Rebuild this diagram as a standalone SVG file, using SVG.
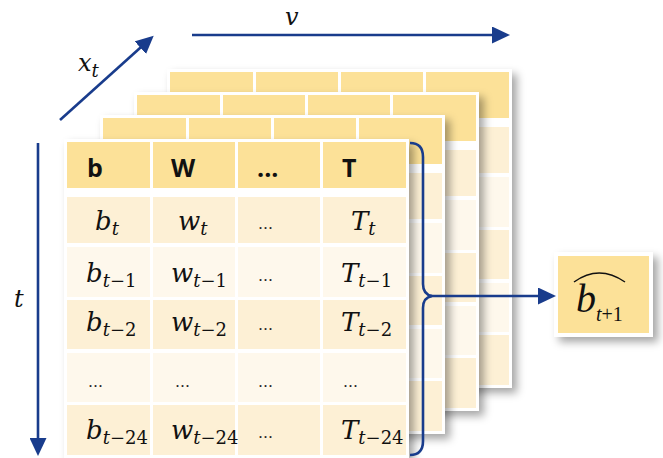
<svg xmlns="http://www.w3.org/2000/svg" xmlns:xlink="http://www.w3.org/1999/xlink" width="663" height="458" viewBox="0 0 663 458">
<style>
.hdr{fill:#FCE198}
.dk{fill:#FDF0D5}
.lt{fill:#FEF8EC}
.card{fill:#ffffff}
.h{font-family:"Open Sans","Liberation Sans",sans-serif;font-weight:700;font-size:25px;fill:#111}
.m{font-family:"DejaVu Serif","Liberation Serif",serif;font-style:italic;font-size:26px;fill:#111}
.lb{font-family:"DejaVu Serif","Liberation Serif",serif;font-style:italic;font-size:24px;fill:#111}
.s{font-size:18px}
.up{font-style:normal}
.el{font-family:"DejaVu Serif","Liberation Serif",serif;font-size:15px;fill:#222}
.ax{stroke:#193C8C;stroke-width:2.6;fill:none}
</style>
<defs>
<filter id="sh" x="-10%" y="-10%" width="130%" height="130%">
<feDropShadow dx="5" dy="5" stdDeviation="4" flood-color="#000" flood-opacity="0.35"/>
</filter>
<marker id="ah" viewBox="0 0 18 17" refX="13" refY="8.5" markerWidth="18" markerHeight="17" markerUnits="userSpaceOnUse" orient="auto">
<path d="M0,0 L18,8.5 L0,17 Z" fill="#193C8C"/>
</marker>
<g id="tbl">
<rect class="card" x="-3" y="-3" width="345" height="319" filter="url(#sh)"/>
<rect class="hdr" x="0" y="0" width="83" height="46"/>
<rect class="hdr" x="86" y="0" width="82" height="46"/>
<rect class="hdr" x="171" y="0" width="82" height="46"/>
<rect class="hdr" x="256" y="0" width="83" height="46"/>
<rect class="dk" x="0" y="55" width="83" height="46"/>
<rect class="dk" x="86" y="55" width="82" height="46"/>
<rect class="dk" x="171" y="55" width="82" height="46"/>
<rect class="dk" x="256" y="55" width="83" height="46"/>
<rect class="lt" x="0" y="105" width="83" height="50"/>
<rect class="lt" x="86" y="105" width="82" height="50"/>
<rect class="lt" x="171" y="105" width="82" height="50"/>
<rect class="lt" x="256" y="105" width="83" height="50"/>
<rect class="dk" x="0" y="158" width="83" height="49"/>
<rect class="dk" x="86" y="158" width="82" height="49"/>
<rect class="dk" x="171" y="158" width="82" height="49"/>
<rect class="dk" x="256" y="158" width="83" height="49"/>
<rect class="lt" x="0" y="211" width="83" height="49"/>
<rect class="lt" x="86" y="211" width="82" height="49"/>
<rect class="lt" x="171" y="211" width="82" height="49"/>
<rect class="lt" x="256" y="211" width="83" height="49"/>
<rect class="dk" x="0" y="263" width="83" height="50"/>
<rect class="dk" x="86" y="263" width="82" height="50"/>
<rect class="dk" x="171" y="263" width="82" height="50"/>
<rect class="dk" x="256" y="263" width="83" height="50"/>
</g>
</defs>
<rect width="663" height="458" fill="#ffffff"/>

<g id="layer4"><use xlink:href="#tbl" href="#tbl" transform="translate(170,72)"/></g>
<g id="layer3"><use xlink:href="#tbl" href="#tbl" transform="translate(137,95)"/></g>
<g id="layer2"><use xlink:href="#tbl" href="#tbl" transform="translate(103,118)"/></g>

<g id="front-table">
<use xlink:href="#tbl" href="#tbl" transform="translate(67,142)"/>
<text class="h" x="87" y="177">b</text>
<text class="h" x="171" y="177">W</text>
<text class="h" x="257" y="177">...</text>
<text class="h" x="342" y="177">T</text>

<text class="m" x="95" y="230">b<tspan class="s" dy="5">t</tspan></text>
<text class="m" x="178" y="230">w<tspan class="s" dy="5">t</tspan></text>
<text class="el" x="258" y="229">…</text>
<text class="m" x="351" y="230">T<tspan class="s" dy="5">t</tspan></text>

<text class="m" x="86" y="282">b<tspan class="s" dy="5">t<tspan class="up">−1</tspan></tspan></text>
<text class="m" x="171" y="282">w<tspan class="s" dy="5">t<tspan class="up">−1</tspan></tspan></text>
<text class="el" x="258" y="281">…</text>
<text class="m" x="341" y="282">T<tspan class="s" dy="5">t<tspan class="up">−1</tspan></tspan></text>

<text class="m" x="86" y="331">b<tspan class="s" dy="5">t<tspan class="up">−2</tspan></tspan></text>
<text class="m" x="171" y="331">w<tspan class="s" dy="5">t<tspan class="up">−2</tspan></tspan></text>
<text class="el" x="258" y="330">…</text>
<text class="m" x="341" y="331">T<tspan class="s" dy="5">t<tspan class="up">−2</tspan></tspan></text>

<text class="el" x="88" y="387">…</text>
<text class="el" x="175" y="387">…</text>
<text class="el" x="258" y="387">…</text>
<text class="el" x="343" y="387">…</text>

<text class="m" x="86" y="439">b<tspan class="s" dy="5">t<tspan class="up">−24</tspan></tspan></text>
<text class="m" x="171" y="439">w<tspan class="s" dy="5">t<tspan class="up">−24</tspan></tspan></text>
<text class="el" x="258" y="438">…</text>
<text class="m" x="341" y="439">T<tspan class="s" dy="5">t<tspan class="up">−24</tspan></tspan></text>
</g>

<g id="output">
<rect class="card" x="554" y="252" width="99" height="85" filter="url(#sh)"/>
<rect class="hdr" x="558" y="256" width="91" height="77"/>
<path d="M574,282 Q599,264 625,282" fill="none" stroke="#111" stroke-width="1.5"/>
<text x="576" y="312" font-family="'Liberation Serif',serif" font-style="italic" font-size="40" fill="#111">b<tspan font-size="20" dy="9">t<tspan font-style="normal">+1</tspan></tspan></text>
</g>

<g id="labels">
<text class="lb" x="78" y="71">x<tspan class="s" dy="6">t</tspan></text>
<text class="lb" x="285" y="25">v</text>
<text class="lb" x="14" y="307">t</text>
</g>

<g id="connectors">
<line class="ax" x1="60" y1="120" x2="150" y2="39" marker-end="url(#ah)"/>
<line class="ax" x1="192" y1="35" x2="505" y2="35" marker-end="url(#ah)"/>
<line class="ax" x1="38" y1="143" x2="38" y2="451" marker-end="url(#ah)"/>
<path class="ax" d="M410,143 C419,143 423,148 423,157 L423,284 C423,291 426,295 432,296 C426,297 423,301 423,308 L423,441 C423,450 419,455 410,455"/>
<line class="ax" x1="430" y1="296" x2="551" y2="296" marker-end="url(#ah)"/>
</g>
</svg>
